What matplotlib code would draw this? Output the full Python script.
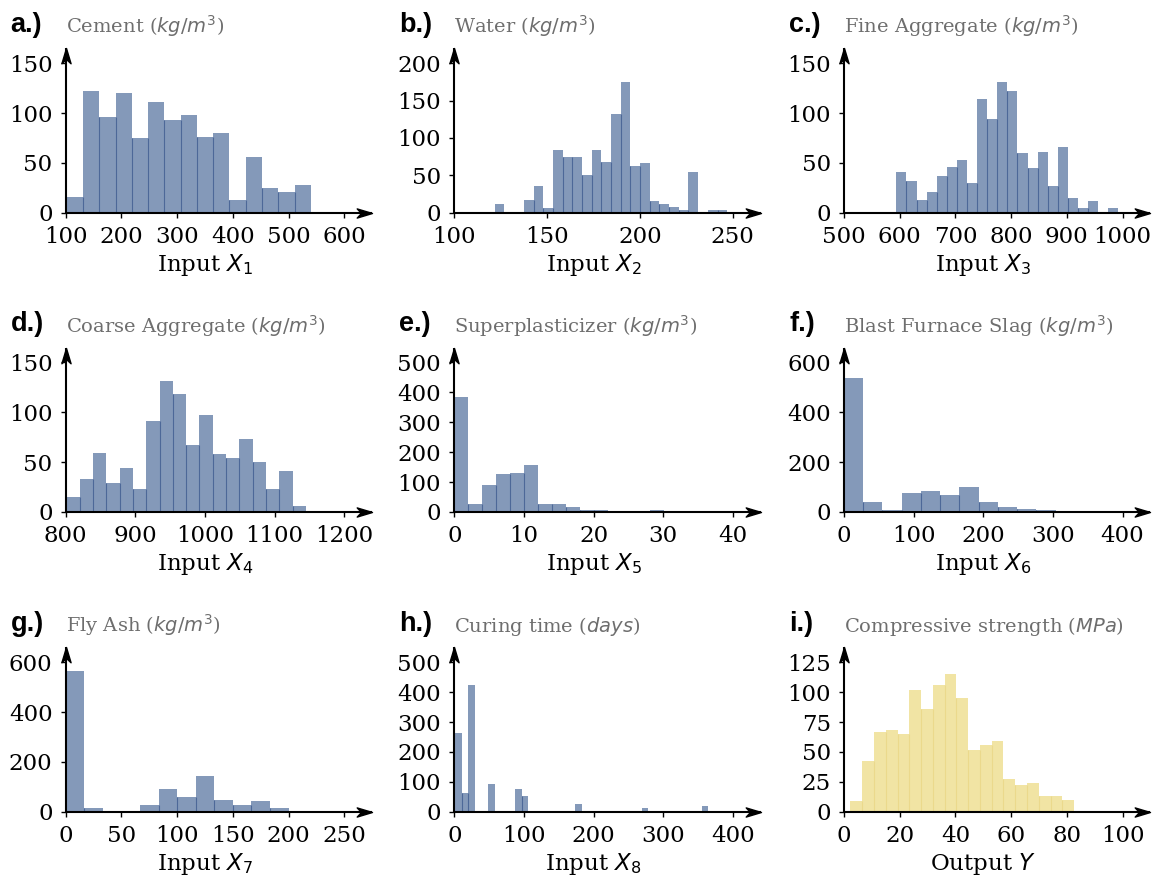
import matplotlib
matplotlib.use('Agg')
import matplotlib.pyplot as plt
import numpy as np
from matplotlib.path import Path

# ---------------- data (bin range + counts) ----------------
cement_range = (102.0, 540.0)
cement_counts = [16, 122, 96, 120, 75, 111, 93, 98, 76, 80, 13, 56, 25, 21, 28]

water_range = (121.8, 247.0)
water_counts = [12, 0, 0, 17, 36, 6, 84, 75, 74, 51, 84, 68, 132, 175, 63, 67,
                15, 11, 7, 4, 55, 0, 3, 3]

fine_range = (594.0, 992.6)
fine_counts = [41, 32, 13, 21, 37, 46, 53, 30, 114, 94, 131, 122, 60, 45, 61, 27,
               66, 15, 5, 12, 0, 5]

coarse_range = (801.0, 1145.0)
coarse_counts = [15, 33, 59, 29, 44, 23, 91, 131, 118, 67, 97, 58, 54, 73, 50, 23, 41, 6]

sp_range = (0.0, 32.2)
sp_counts = [385, 27, 91, 128, 131, 158, 27, 27, 17, 7, 6, 1, 1, 0, 6, 5]

slag_range = (0.0, 359.4)
slag_counts = [538, 40, 8, 78, 85, 69, 101, 41, 20, 12, 7, 2, 1]

flyash_range = (0.0, 200.1)
flyash_counts = [565, 13, 0, 0, 27, 91, 59, 143, 47, 27, 43, 15]

age_range = (1.0, 365.0)
age_counts = [262, 62, 425, 0, 0, 91, 0, 0, 0, 76, 52, 0, 3, 0, 0, 0, 0, 0, 26, 0,
              0, 0, 0, 0, 0, 0, 0, 0, 13, 0, 0, 0, 0, 0, 0, 0, 0, 19]

strength_range = (2.33, 82.6)
strength_counts = [9, 42, 67, 68, 65, 102, 86, 106, 115, 95, 52, 56, 59, 27, 22, 24, 13, 13, 10]

letters = ['a.)', 'b.)', 'c.)', 'd.)', 'e.)', 'f.)', 'g.)', 'h.)', 'i.)']
titles = ['Cement ($kg/m^3$)', 'Water ($kg/m^3$)', 'Fine Aggregate ($kg/m^3$)',
          'Coarse Aggregate ($kg/m^3$)', 'Superplasticizer ($kg/m^3$)',
          'Blast Furnace Slag ($kg/m^3$)', 'Fly Ash ($kg/m^3$)',
          'Curing time ($days$)', 'Compressive strength ($MPa$)']
xlabels = ['Input $X_1$', 'Input $X_2$', 'Input $X_3$', 'Input $X_4$', 'Input $X_5$',
           'Input $X_6$', 'Input $X_7$', 'Input $X_8$', 'Output $Y$']
xticks_list = [[100, 200, 300, 400, 500, 600],
               [100, 150, 200, 250],
               [500, 600, 700, 800, 900, 1000],
               [800, 900, 1000, 1100, 1200],
               [0, 10, 20, 30, 40],
               [0, 100, 200, 300, 400],
               [0, 50, 100, 150, 200, 250],
               [0, 100, 200, 300, 400],
               [0, 20, 40, 60, 80, 100]]
yticks_list = [[0, 50, 100, 150],
               [0, 50, 100, 150, 200],
               [0, 50, 100, 150],
               [0, 50, 100, 150],
               [0, 100, 200, 300, 400, 500],
               [0, 200, 400, 600],
               [0, 200, 400, 600],
               [0, 100, 200, 300, 400, 500],
               [0, 25, 50, 75, 100, 125]]

ranges = [cement_range, water_range, fine_range, coarse_range, sp_range,
          slag_range, flyash_range, age_range, strength_range]
counts_list = [cement_counts, water_counts, fine_counts, coarse_counts, sp_counts,
               slag_counts, flyash_counts, age_counts, strength_counts]

# ---------------- style ----------------
plt.rcParams['font.family'] = ['DejaVu Serif']
plt.rcParams['mathtext.fontset'] = 'dejavusans'

BLUE_FACE = '#8499b9'
BLUE_EDGE = '#4d6898'
YEL_FACE = '#f1e4a4'
YEL_EDGE = '#ebd98c'
TITLE_GREY = '#6e6e6e'

W, H = 1160, 880
fig = plt.figure(figsize=(W / 100, H / 100), dpi=100)

col_left = [65.7, 454.3, 844.0]
row_bottom = [212.7, 512.0, 811.7]
ax_w = 278.5
ax_h = 149.5

head_right = Path([(0, 0), (-1, 0.3), (-0.72, 0), (-1, -0.3), (0, 0)],
                  [Path.MOVETO, Path.LINETO, Path.LINETO, Path.LINETO, Path.CLOSEPOLY])
head_up = Path([(0, 0), (0.3, -1), (0, -0.72), (-0.3, -1), (0, 0)],
               [Path.MOVETO, Path.LINETO, Path.LINETO, Path.LINETO, Path.CLOSEPOLY])

for i in range(9):
    r, c = divmod(i, 3)
    L = col_left[c]
    B = row_bottom[r]
    ax = fig.add_axes([L / W, 1 - B / H, ax_w / W, ax_h / H])

    counts = np.array(counts_list[i], dtype=float)
    edges = np.linspace(ranges[i][0], ranges[i][1], len(counts) + 1)
    face = YEL_FACE if i == 8 else BLUE_FACE
    edge = YEL_EDGE if i == 8 else BLUE_EDGE
    ax.hist(edges[:-1], bins=edges, weights=counts, color=face, linewidth=0)
    inner_h = np.minimum(counts[:-1], counts[1:])
    ax.vlines(edges[1:-1], 0, inner_h, colors=edge, linewidth=0.8)

    xt = xticks_list[i]
    yt = yticks_list[i]
    ax.set_xlim(xt[0], xt[-1])
    ax.set_ylim(yt[0], yt[-1])
    ax.set_xticks(xt)
    ax.set_yticks(yt)

    for s in ['top', 'right', 'left', 'bottom']:
        ax.spines[s].set_visible(False)
    ax.plot([0, 1.1], [0, 0], transform=ax.transAxes, color='k', lw=1.5,
            clip_on=False, solid_capstyle='butt', zorder=5)
    ax.plot([0, 0], [0, 1.1], transform=ax.transAxes, color='k', lw=1.5,
            clip_on=False, solid_capstyle='butt', zorder=5)
    ax.plot([1.1], [0], transform=ax.transAxes, marker=head_right, ms=22,
            color='k', clip_on=False, zorder=6, linestyle='none')
    ax.plot([0], [1.1], transform=ax.transAxes, marker=head_up, ms=22,
            color='k', clip_on=False, zorder=6, linestyle='none')

    ax.tick_params(direction='out', length=3.5, width=1.0, labelsize=16.5, pad=6,
                   colors='k')
    ax.set_xlabel(xlabels[i], fontsize=16.5, labelpad=3)

    ax.annotate(titles[i], xy=(0, 1), xycoords='axes fraction',
                xytext=(0, 30), textcoords='offset pixels',
                ha='left', va='baseline', fontsize=14, color=TITLE_GREY)
    ax.annotate(letters[i], xy=(0, 1), xycoords='axes fraction',
                xytext=(-55, 31.5), textcoords='offset pixels',
                ha='left', va='baseline', fontsize=19.5, fontweight='bold',
                family=['Liberation Sans', 'DejaVu Sans'], color='k')

fig.savefig('out.png', dpi=100)
